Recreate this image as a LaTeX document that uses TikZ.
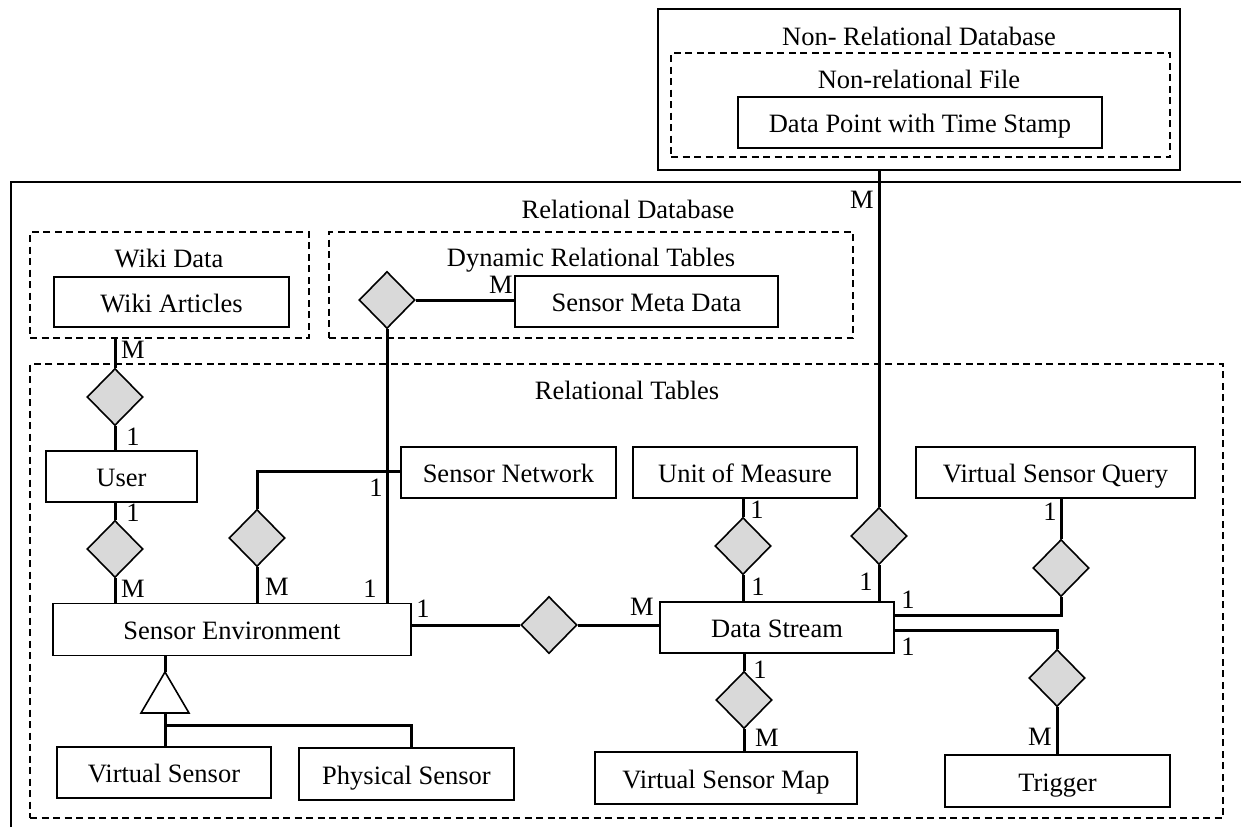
\documentclass[tikz,border=0pt]{standalone}
\usepackage{fontspec}
\setmainfont{Liberation Serif}
\usetikzlibrary{shapes.geometric}
\definecolor{diagray}{HTML}{D9D9D9}
\begin{document}
\begin{tikzpicture}[x=1pt,y=-1pt,
  font=\fontsize{26.5}{30}\selectfont,
  ent/.style={draw,line width=1.6pt,fill=white,inner sep=0pt,text height=20pt,text depth=0pt},
  cont/.style={draw,line width=1.5pt,dash pattern=on 7pt off 4.5pt,inner sep=0pt},
  solidc/.style={draw,line width=1.6pt,inner sep=0pt},
  rel/.style={diamond,draw,line width=1.6pt,fill=diagray,minimum width=56pt,minimum height=57pt,inner sep=0pt},
  conn/.style={line width=3pt},
  card/.style={inner sep=0pt,text height=17.5pt,text depth=0pt},
  ttl/.style={inner sep=0pt,text height=17.5pt,text depth=0pt}]
\useasboundingbox (0,0) rectangle (1241,827);

% containers
\node[solidc,minimum width=522pt,minimum height=161pt] (nonrel) at (919,89.5) {};
\node[cont,minimum width=499pt,minimum height=104pt] (nrfile) at (920.5,105) {};
\coordinate (rdbbl) at (11,827);
\coordinate (rdbtl) at (11,182);
\coordinate (rdbtr) at (1241,182);
\draw[line width=1.6pt] (rdbbl) -- (rdbtl) -- (rdbtr);
\node[cont,minimum width=279pt,minimum height=106pt] (wikic) at (169.5,285) {};
\node[cont,minimum width=524pt,minimum height=106pt] (dync) at (591,285) {};
\node[cont,minimum width=1193pt,minimum height=454pt] (rtc) at (626.5,591) {};

% titles
\node[ttl] (t1) at (919,37) {Non- Relational Database};
\node[ttl] (t2) at (919,80) {Non-relational File};
\node[ttl] (t3) at (628,210) {Relational Database};
\node[ttl] (t4) at (169,259) {Wiki Data};
\node[ttl] (t5) at (591,258) {Dynamic Relational Tables};
\node[ttl] (t6) at (627,391) {Relational Tables};

% entities
\node[ent,minimum width=364pt,minimum height=51pt] (dp) at (920,122.5) {Data Point with Time Stamp};
\node[ent,minimum width=235pt,minimum height=50pt] (wa) at (171.5,302) {Wiki Articles};
\node[ent,minimum width=263pt,minimum height=51pt] (smd) at (646.5,301.5) {Sensor Meta Data};
\node[ent,minimum width=151pt,minimum height=51pt] (user) at (121.5,476.5) {User};
\node[ent,minimum width=215pt,minimum height=51pt] (sn) at (508.5,472.5) {Sensor Network};
\node[ent,minimum width=224pt,minimum height=51pt] (uom) at (745,472.5) {Unit of Measure};
\node[ent,minimum width=279pt,minimum height=51pt] (vsq) at (1055.5,472.5) {Virtual Sensor Query};
\node[ent,minimum width=358pt,minimum height=52pt] (se) at (232,629.5) {Sensor Environment};
\node[ent,minimum width=234pt,minimum height=51pt] (ds) at (777,627.5) {Data Stream};
\node[ent,minimum width=214pt,minimum height=51pt] (vs) at (164,772.5) {Virtual Sensor};
\node[ent,minimum width=215pt,minimum height=52pt] (ps) at (406.5,774) {Physical Sensor};
\node[ent,minimum width=262pt,minimum height=52pt] (vsm) at (726,778) {Virtual Sensor Map};
\node[ent,minimum width=225pt,minimum height=52pt] (trig) at (1057.5,781) {Trigger};

% relationships
\node[rel] (d1) at (387,300) {};
\node[rel] (d2) at (115,397) {};
\node[rel] (d3) at (115,549) {};
\node[rel] (d4) at (257,538) {};
\node[rel] (d5) at (549,625) {};
\node[rel] (d6) at (743,546) {};
\node[rel] (d7) at (879,536) {};
\node[rel] (d8) at (1061,568) {};
\node[rel] (d9) at (1057,678) {};
\node[rel] (d10) at (744,700) {};

% connectors
\draw[conn] (d7.north |- nonrel.south) -- (d7.north);
\draw[conn] (d7.south) -- (d7.south |- ds.north);
\draw[conn] (d2.north |- wikic.south) -- (d2.north);
\draw[conn] (d2.south) -- (d2.south |- user.north);
\draw[conn] (d3.north |- user.south) -- (d3.north);
\draw[conn] (d3.south) -- (d3.south |- se.north);
\draw[conn] (d1.east) -- (d1.east -| smd.west);
\draw[conn] (d1.south) -- (d1.south |- se.north);
\draw[conn] ([yshift=1.5pt]sn.west) -- ([yshift=1.5pt]d4.north |- sn.west) -- (d4.north);
\draw[conn] (d4.south) -- (d4.south |- se.north);
\draw[conn] (d5.west -| se.east) -- (d5.west);
\draw[conn] (d5.east) -- (d5.east -| ds.west);
\draw[conn] (d6.north |- uom.south) -- (d6.north);
\draw[conn] (d6.south) -- (d6.south |- ds.north);
\draw[conn] ([yshift=12pt]ds.east) -- ([yshift=12pt]d8.south |- ds.east) -- (d8.south);
\draw[conn] (d8.north) -- (d8.north |- vsq.south);
\draw[conn] ([yshift=-2.5pt]ds.east) -- ([yshift=-2.5pt]d9.north |- ds.east) -- (d9.north);
\draw[conn] (d9.south) -- (d9.south |- trig.north);
\draw[conn] (d10.north |- ds.south) -- (d10.north);
\draw[conn] (d10.south) -- (d10.south |- vsm.north);

% generalisation triangle
\coordinate (tria) at (165,672);
\coordinate (trib) at (165,713);
\coordinate (split) at (165,725);
\coordinate (psup) at (411,725);
\draw[conn] (tria |- se.south) -- (tria);
\draw[line width=1.6pt,fill=white] (tria) -- (189,713) -- (141,713) -- cycle;
\draw[conn] (trib) -- (trib |- vs.north);
\draw[conn] (split) -- (psup) -- (psup |- ps.north);

% cardinalities
\node[card] (c1) at (862,200) {M};
\node[card] (c2) at (501,285) {M};
\node[card] (c3) at (133,350) {M};
\node[card] (c4) at (133,437) {1};
\node[card] (c5) at (133,513) {1};
\node[card] (c6) at (133,589) {M};
\node[card] (c7) at (277,587) {M};
\node[card] (c8) at (370,589) {1};
\node[card] (c9) at (376,488) {1};
\node[card] (c10) at (423,609) {1};
\node[card] (c11) at (642,607) {M};
\node[card] (c12) at (757,510) {1};
\node[card] (c13) at (758,587) {1};
\node[card] (c14) at (866,582) {1};
\node[card] (c15) at (908,600) {1};
\node[card] (c16) at (1050,512) {1};
\node[card] (c17) at (908,647) {1};
\node[card] (c18) at (1040,737) {M};
\node[card] (c19) at (760,670) {1};
\node[card] (c20) at (767,738) {M};
\end{tikzpicture}
\end{document}
